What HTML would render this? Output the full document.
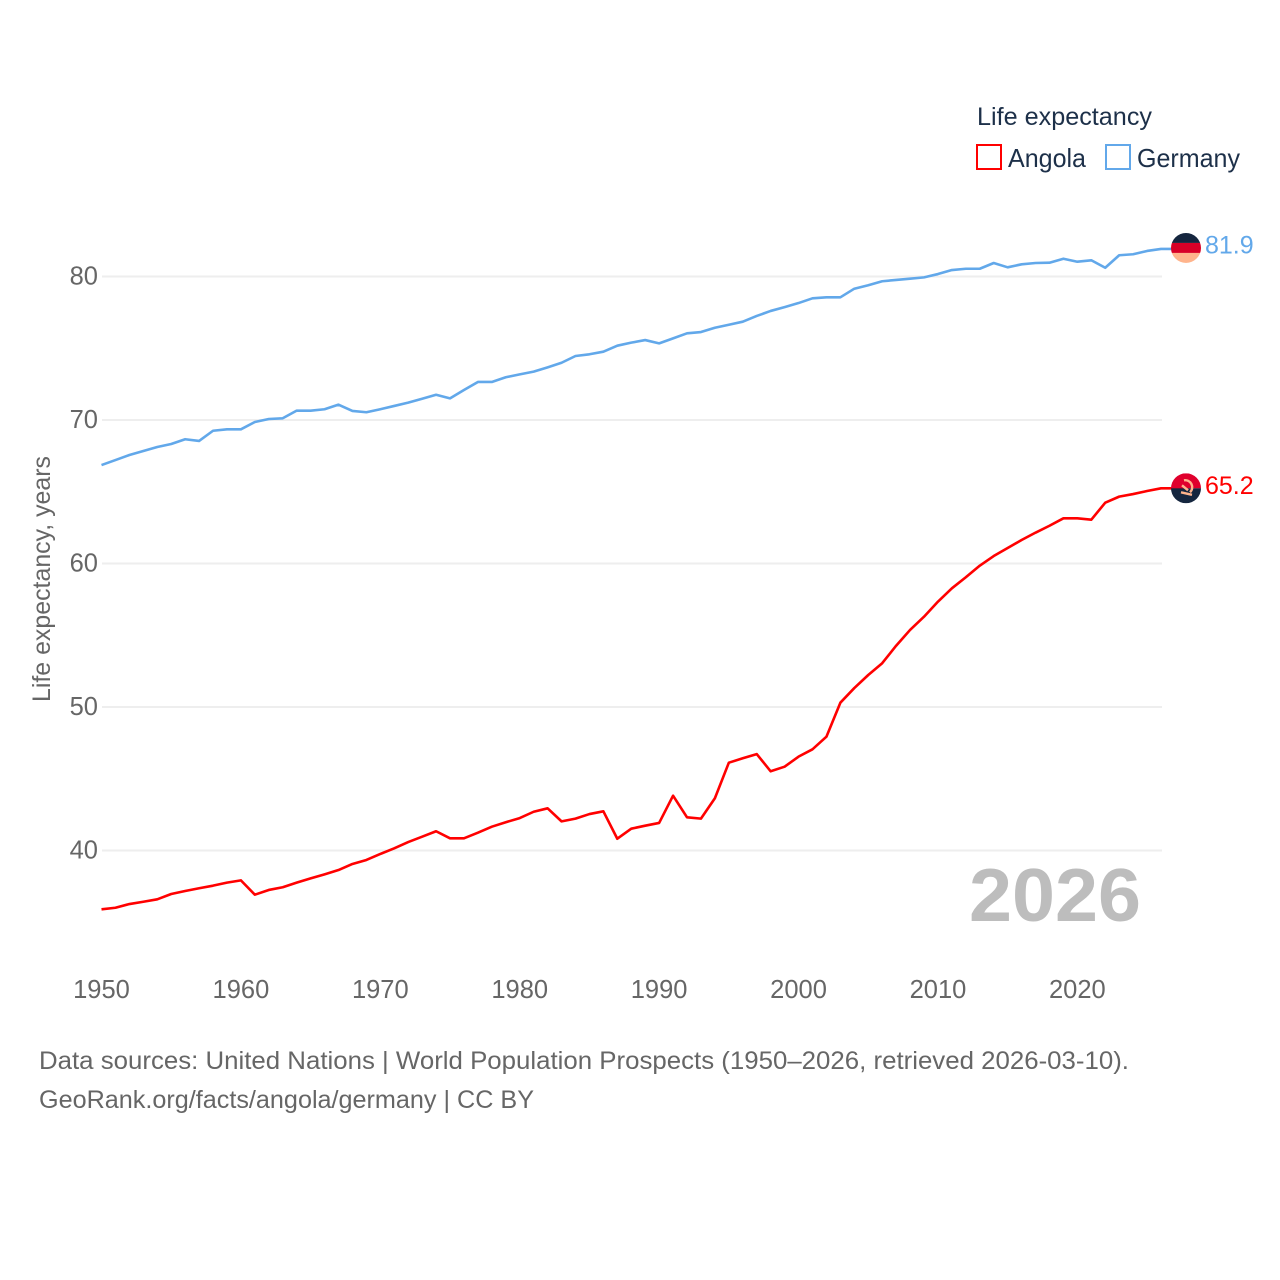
<!DOCTYPE html>
<html lang="en">
<head>
<meta charset="utf-8">
<title>Life expectancy: Angola and Germany</title>
<style>
  html, body { margin: 0; padding: 0; background: #fff; }
  svg { display: block; font-family: "Liberation Sans", sans-serif; }
</style>
</head>
<body>
<svg id="chart" xmlns="http://www.w3.org/2000/svg" width="1280" height="1280" viewBox="0 0 1280 1280">
  <rect x="0" y="0" width="1280" height="1280" fill="#ffffff"/>
  <g id="grid"></g>
  <g id="yticks"></g>
  <g id="xticks"></g>
  <text transform="translate(50,579) rotate(-90)" text-anchor="middle" font-size="25" fill="#666666" textLength="246" lengthAdjust="spacingAndGlyphs">Life expectancy, years</text>
  <text x="969" y="921" font-size="75" font-weight="700" fill="#bdbdbd" textLength="172" lengthAdjust="spacingAndGlyphs">2026</text>
  <g id="series"></g>

  <g id="flag-germany"></g>
  <g id="flag-angola"></g>

  <g>
    <text x="977" y="125" font-size="25" fill="#1d3049" textLength="175" lengthAdjust="spacingAndGlyphs">Life expectancy</text>
    <rect x="977" y="145" width="24" height="24" fill="#ffffff" stroke="#ff0000" stroke-width="2"/>
    <text x="1008" y="167" font-size="26" fill="#1d3049" textLength="78" lengthAdjust="spacingAndGlyphs">Angola</text>
    <rect x="1106" y="145" width="24" height="24" fill="#ffffff" stroke="#62a8ea" stroke-width="2"/>
    <text x="1137" y="167" font-size="26" fill="#1d3049" textLength="103" lengthAdjust="spacingAndGlyphs">Germany</text>
  </g>

  <text x="39" y="1069" font-size="25" fill="#666666" textLength="1090" lengthAdjust="spacingAndGlyphs">Data sources: United Nations | World Population Prospects (1950–2026, retrieved 2026-03-10).</text>
  <text x="39" y="1108" font-size="25" fill="#666666" textLength="495" lengthAdjust="spacingAndGlyphs">GeoRank.org/facts/angola/germany | CC BY</text>
</svg>

<script>
const years = [1950,1951,1952,1953,1954,1955,1956,1957,1958,1959,
  1960,1961,1962,1963,1964,1965,1966,1967,1968,1969,
  1970,1971,1972,1973,1974,1975,1976,1977,1978,1979,
  1980,1981,1982,1983,1984,1985,1986,1987,1988,1989,
  1990,1991,1992,1993,1994,1995,1996,1997,1998,1999,
  2000,2001,2002,2003,2004,2005,2006,2007,2008,2009,
  2010,2011,2012,2013,2014,2015,2016,2017,2018,2019,
  2020,2021,2022,2023,2024,2025,2026];

const germanyValues = [66.86,67.21,67.56,67.84,68.12,68.33,68.66,68.54,69.25,69.35,
  69.35,69.86,70.07,70.12,70.65,70.65,70.75,71.07,70.63,70.54,
  70.75,70.98,71.21,71.48,71.76,71.51,72.09,72.65,72.65,72.98,
  73.18,73.37,73.67,73.99,74.46,74.58,74.76,75.18,75.39,75.57,
  75.34,75.69,76.04,76.13,76.43,76.64,76.85,77.25,77.60,77.87,
  78.15,78.48,78.55,78.55,79.15,79.39,79.67,79.76,79.85,79.94,
  80.17,80.45,80.54,80.54,80.94,80.64,80.85,80.94,80.96,81.24,
  81.03,81.13,80.61,81.48,81.55,81.78,81.92];

const angolaValues = [35.90,36.01,36.27,36.43,36.60,36.97,37.18,37.37,37.55,37.76,
  37.92,36.92,37.25,37.44,37.76,38.06,38.34,38.64,39.06,39.34,
  39.76,40.15,40.59,40.96,41.34,40.85,40.85,41.24,41.66,41.97,
  42.26,42.70,42.94,42.03,42.22,42.54,42.73,40.82,41.52,41.73,
  41.92,43.82,42.31,42.22,43.64,46.12,46.43,46.72,45.52,45.84,
  46.54,47.05,47.93,50.30,51.32,52.23,53.05,54.27,55.37,56.29,
  57.34,58.27,59.04,59.85,60.52,61.08,61.64,62.15,62.63,63.15,
  63.15,63.05,64.24,64.66,64.84,65.05,65.24];

const yTickValues = [40,50,60,70,80];
const xTickValues = [1950,1960,1970,1980,1990,2000,2010,2020];
const germanyEndLabel = "81.9";
const angolaEndLabel = "65.2";

const NS = "http://www.w3.org/2000/svg";
const X0 = 101.5, X1 = 1161, Y40 = 850.5, PX_PER_UNIT = 14.35;
const GRID_X0 = 102, GRID_X1 = 1162;
const FLAG_X = 1186;
const yearMin = years[0], yearMax = years[years.length - 1];

function xScale(year) {
  return X0 + (year - yearMin) / (yearMax - yearMin) * (X1 - X0);
}
function yScale(value) {
  return Y40 - (value - 40) * PX_PER_UNIT;
}
function svgEl(tag) {
  return document.createElementNS(NS, tag);
}
function setAttrs(el, attrs) {
  Object.keys(attrs).forEach(function (k) { el.setAttribute(k, attrs[k]); });
}

const gridGroup = document.getElementById("grid");
const yTickGroup = document.getElementById("yticks");
yTickValues.forEach(function (v) {
  const line = svgEl("line");
  setAttrs(line, { x1: GRID_X0, x2: GRID_X1, y1: yScale(v), y2: yScale(v), stroke: "#eeeeee", "stroke-width": 2 });
  
  
  gridGroup.appendChild(line);

  const label = svgEl("text");
  setAttrs(label, { x: 98, y: yScale(v) + 8, "text-anchor": "end", "font-size": 25.5, fill: "#666666" });
  
  
  label.textContent = String(v);
  yTickGroup.appendChild(label);
});

const xTickGroup = document.getElementById("xticks");
xTickValues.forEach(function (v) {
  const label = svgEl("text");
  setAttrs(label, { x: xScale(v), y: 998, "text-anchor": "middle", "font-size": 25.5, fill: "#666666" });
  
  
  label.textContent = String(v);
  xTickGroup.appendChild(label);
});

function linePoints(values) {
  const pts = values.map(function (v, i) {
    return xScale(years[i]).toFixed(2) + "," + yScale(v).toFixed(2);
  });
  pts.push(FLAG_X + "," + yScale(values[values.length - 1]).toFixed(2));
  return pts.join(" ");
}

const seriesGroup = document.getElementById("series");

const germanyLine = svgEl("polyline");
setAttrs(germanyLine, { points: linePoints(germanyValues), fill: "none", stroke: "#62a8ea", "stroke-width": 2.6, "stroke-linejoin": "round" });


seriesGroup.appendChild(germanyLine);

const angolaLine = svgEl("polyline");
setAttrs(angolaLine, { points: linePoints(angolaValues), fill: "none", stroke: "#ff0000", "stroke-width": 2.6, "stroke-linejoin": "round" });


seriesGroup.appendChild(angolaLine);

/* Germany flag */
const gy = yScale(germanyValues[germanyValues.length - 1]) - 1;
const gGroup = document.getElementById("flag-germany");
gGroup.innerHTML =
  '<clipPath id="clip-de"><circle cx="' + FLAG_X + '" cy="' + gy + '" r="15"/></clipPath>' +
  '<g clip-path="url(#clip-de)">' +
  '<rect x="' + (FLAG_X - 15) + '" y="' + (gy - 15) + '" width="30" height="10" fill="#15263f"/>' +
  '<rect x="' + (FLAG_X - 15) + '" y="' + (gy - 5) + '" width="30" height="10" fill="#d80027"/>' +
  '<rect x="' + (FLAG_X - 15) + '" y="' + (gy + 5) + '" width="30" height="10" fill="#ffb48c"/>' +
  '</g>';
const gLabel = svgEl("text");
setAttrs(gLabel, { x: 1205, y: gy + 5.5, "font-size": 25, fill: "#62a8ea" });


gLabel.textContent = germanyEndLabel;
gGroup.appendChild(gLabel);

/* Angola flag */
const ay = yScale(angolaValues[angolaValues.length - 1]);
const aGroup = document.getElementById("flag-angola");
aGroup.innerHTML =
  '<clipPath id="clip-ao"><circle cx="' + FLAG_X + '" cy="' + ay + '" r="15"/></clipPath>' +
  '<g clip-path="url(#clip-ao)">' +
  '<rect x="' + (FLAG_X - 15) + '" y="' + (ay - 15) + '" width="30" height="15" fill="#e0002d"/>' +
  '<rect x="' + (FLAG_X - 15) + '" y="' + ay + '" width="30" height="15" fill="#15263f"/>' +
  '<path d="M' + (FLAG_X - 2) + ' ' + (ay - 8) + 'a7 7 0 0 1 6 12" fill="none" stroke="#ffb48c" stroke-width="2.4"/>' +
  '<path d="M' + (FLAG_X - 5) + ' ' + (ay + 4) + 'l11 2.5M' + (FLAG_X - 4) + ' ' + (ay - 3) + 'l6 5" fill="none" stroke="#ffb48c" stroke-width="2.4"/>' +
  '</g>';
const aLabel = svgEl("text");
setAttrs(aLabel, { x: 1205, y: ay + 5.5, "font-size": 25, fill: "#ff0000" });


aLabel.textContent = angolaEndLabel;
aGroup.appendChild(aLabel);
</script>
</body>
</html>
